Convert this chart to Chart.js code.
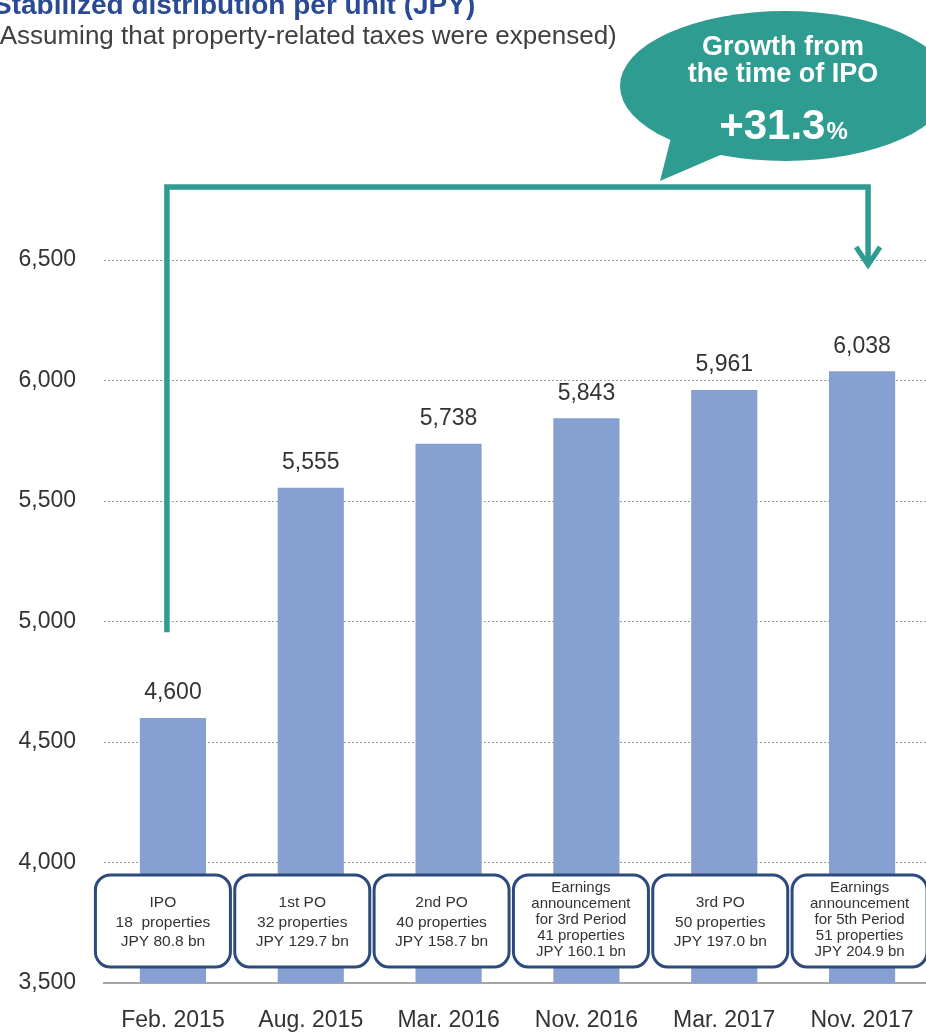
<!DOCTYPE html>
<html>
<head>
<meta charset="utf-8">
<script src="https://cdn.jsdelivr.net/npm/chart.js@4.4.0/dist/chart.umd.min.js"></script>
<style>
  html, body { margin: 0; padding: 0; background: #ffffff; overflow: hidden; }
  #wrap { position: relative; width: 926px; height: 1032px; overflow: hidden; }
  canvas { display: block; }
</style>
</head>
<body>
<div id="wrap"><canvas id="chart" width="931" height="1032"></canvas></div>
<script>
// Stabilized distribution per unit at each milestone
const periods = ['Feb. 2015', 'Aug. 2015', 'Mar. 2016', 'Nov. 2016', 'Mar. 2017', 'Nov. 2017'];
const distributions = [4600, 5555, 5738, 5843, 5961, 6038];

// Portfolio milestone shown under each bar
const eventNotes = [
  ['IPO', '18  properties', 'JPY 80.8 bn'],
  ['1st PO', '32 properties', 'JPY 129.7 bn'],
  ['2nd PO', '40 properties', 'JPY 158.7 bn'],
  ['Earnings', 'announcement', 'for 3rd Period', '41 properties', 'JPY 160.1 bn'],
  ['3rd PO', '50 properties', 'JPY 197.0 bn'],
  ['Earnings', 'announcement', 'for 5th Period', '51 properties', 'JPY 204.9 bn']
];

// Value axis
const axisMin = 3500;
const axisMax = 6500;
const axisStep = 500;

const titleText = 'Stabilized distribution per unit (JPY)';
const subtitleText = '(Assuming that property-related taxes were expensed)';
const calloutLines = ['Growth from', 'the time of IPO'];
const growthValue = '+31.3';
const growthUnit = '%';

const FONT = '"Liberation Sans", Arial, Helvetica, sans-serif';
const BAR_COLOR = '#86A0D2';
const TEAL = '#2F9C92';
const NAVY = '#2C4A7C';
const INK = '#333333';

function fmt(v) { return v.toLocaleString('en-US'); }

function roundRectPath(ctx, x, y, w, h, r) {
  ctx.beginPath();
  ctx.moveTo(x + r, y);
  ctx.lineTo(x + w - r, y);
  ctx.arcTo(x + w, y, x + w, y + r, r);
  ctx.lineTo(x + w, y + h - r);
  ctx.arcTo(x + w, y + h, x + w - r, y + h, r);
  ctx.lineTo(x + r, y + h);
  ctx.arcTo(x, y + h, x, y + h - r, r);
  ctx.lineTo(x, y + r);
  ctx.arcTo(x, y, x + r, y, r);
  ctx.closePath();
}

const overlay = {
  id: 'overlay',
  afterDatasetsDraw(chart) {
    const { ctx, chartArea, scales } = chart;
    const xs = scales.x, ys = scales.y;
    const meta = chart.getDatasetMeta(0);
    ctx.save();

    // value labels above the bars
    ctx.font = '23px ' + FONT;
    ctx.fillStyle = INK;
    ctx.textAlign = 'center';
    ctx.textBaseline = 'middle';
    meta.data.forEach((bar, i) => {
      ctx.fillText(fmt(distributions[i]), bar.x, bar.y - 25);
    });

    // milestone boxes across the foot of the bars
    const boxW = 135, boxH = 92;
    const boxTop = chartArea.bottom - 108;
    eventNotes.forEach((lines, i) => {
      const cx = xs.getPixelForValue(i) - 10 + 1.5 * i;
      roundRectPath(ctx, cx - boxW / 2, boxTop, boxW, boxH, 15);
      ctx.fillStyle = '#ffffff';
      ctx.fill();
      ctx.lineWidth = 3;
      ctx.strokeStyle = NAVY;
      ctx.stroke();
      const long = lines.length > 3;
      const lh = long ? 16 : 19.5;
      ctx.font = (long ? '15px ' : '15.5px ') + FONT;
      ctx.fillStyle = INK;
      const midY = boxTop + boxH / 2 + (long ? -1 : 1.5);
      lines.forEach((t, k) => {
        ctx.fillText(t, cx, midY + (k - (lines.length - 1) / 2) * lh);
      });
    });

    // bracket from the IPO bar to the latest bar
    const lx = xs.getPixelForValue(0) - 6;
    const rx = xs.getPixelForValue(distributions.length - 1) + 6;
    const topY = chartArea.top - 73;
    const startY = ys.getPixelForValue(4955);
    const tipY = chartArea.top + 7;
    ctx.strokeStyle = TEAL;
    ctx.lineWidth = 5.5;
    ctx.lineJoin = 'miter';
    ctx.lineCap = 'butt';
    ctx.beginPath();
    ctx.moveTo(lx, startY);
    ctx.lineTo(lx, topY);
    ctx.lineTo(rx, topY);
    ctx.lineTo(rx, tipY - 3);
    ctx.stroke();
    ctx.lineWidth = 5;
    ctx.beginPath();
    ctx.moveTo(rx - 12, tipY - 20);
    ctx.lineTo(rx, tipY - 2);
    ctx.lineTo(rx + 12, tipY - 20);
    ctx.stroke();

    // speech bubble
    const bx = 785, by = 86;
    ctx.fillStyle = TEAL;
    ctx.beginPath();
    ctx.ellipse(bx, by, 165, 75, 0, 0, Math.PI * 2);
    ctx.fill();
    ctx.beginPath();
    ctx.moveTo(660, 181);
    ctx.lineTo(674, 126);
    ctx.lineTo(732, 150);
    ctx.closePath();
    ctx.fill();

    ctx.fillStyle = '#ffffff';
    ctx.textAlign = 'center';
    ctx.textBaseline = 'middle';
    ctx.font = 'bold 27px ' + FONT;
    ctx.fillText(calloutLines[0], bx - 2, 48);
    ctx.fillText(calloutLines[1], bx - 2, 75);
    ctx.font = 'bold 42px ' + FONT;
    const w1 = ctx.measureText(growthValue).width;
    ctx.font = 'bold 24px ' + FONT;
    const w2 = ctx.measureText(growthUnit).width;
    const startX = bx - 2 - (w1 + w2) / 2;
    ctx.textAlign = 'left';
    ctx.textBaseline = 'alphabetic';
    ctx.font = 'bold 42px ' + FONT;
    ctx.fillText(growthValue, startX, 139);
    ctx.font = 'bold 24px ' + FONT;
    ctx.fillText(growthUnit, startX + w1 + 1, 139);

    // heading
    ctx.textAlign = 'left';
    ctx.textBaseline = 'alphabetic';
    ctx.fillStyle = '#2A4B94';
    ctx.font = 'bold 28px ' + FONT;
    ctx.fillText(titleText, -7, 14);
    ctx.fillStyle = '#404040';
    ctx.font = '26px ' + FONT;
    ctx.fillText(subtitleText, -9, 44);

    ctx.restore();
  }
};

new Chart(document.getElementById('chart'), {
  type: 'bar',
  data: {
    labels: periods,
    datasets: [{
      data: distributions,
      backgroundColor: BAR_COLOR,
      borderWidth: 0,
      categoryPercentage: 1,
      barPercentage: 0.48
    }]
  },
  options: {
    responsive: false,
    animation: false,
    devicePixelRatio: 1,
    layout: { padding: { top: 260, right: 0, bottom: 0, left: 0 } },
    plugins: {
      legend: { display: false },
      tooltip: { enabled: false },
      title: { display: false }
    },
    scales: {
      x: {
        grid: { display: false },
        border: { display: true, color: '#A6A6A6', width: 2 },
        ticks: {
          color: INK,
          font: { family: FONT, size: 23 },
          padding: 16,
          maxRotation: 0,
          autoSkip: false
        },
        afterFit(scale) { scale.height = 49; }
      },
      y: {
        min: axisMin,
        max: axisMax,
        grid: {
          drawTicks: false,
          color: (c) => (c.tick && c.tick.value === axisMin ? 'rgba(0,0,0,0)' : '#9A9A9A'),
          lineWidth: 1
        },
        border: { display: false, dash: [2, 2] },
        ticks: {
          stepSize: axisStep,
          color: INK,
          font: { family: FONT, size: 23 },
          padding: 28,
          callback: (v) => fmt(v)
        },
        afterFit(scale) { scale.width = 104; }
      }
    }
  },
  plugins: [overlay]
});
</script>
</body>
</html>
